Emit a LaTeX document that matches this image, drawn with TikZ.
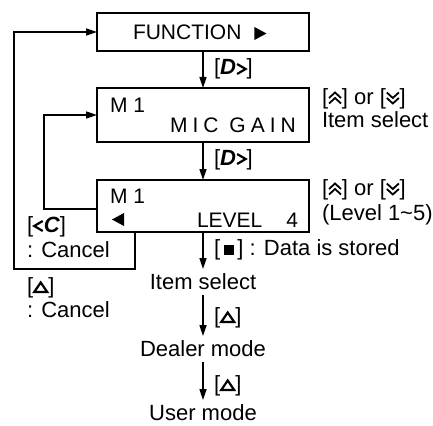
\documentclass[tikz,border=0pt]{standalone}
\usepackage{fontspec}
\setmainfont{Liberation Sans}
\newfontfamily\spacedfont[LetterSpace=24]{Liberation Sans}
\usetikzlibrary{arrows.meta}
\newcommand{\kup}{\tikz[baseline=0pt]{\draw[line width=1.8pt,line join=miter] (0.5pt,6pt)--(6.5pt,11.5pt)--(12.5pt,6pt) (0.5pt,0.5pt)--(6.5pt,6pt)--(12.5pt,0.5pt);}}
\newcommand{\kdn}{\tikz[baseline=0pt]{\draw[line width=1.8pt,line join=miter] (0.5pt,11.5pt)--(6.5pt,6pt)--(12.5pt,11.5pt) (0.5pt,6pt)--(6.5pt,0.5pt)--(12.5pt,6pt);}}
\newcommand{\ktri}{\tikz[baseline=0pt]{\draw[line width=2.2pt,line join=miter] (1pt,1pt)--(14pt,1pt)--(7.5pt,10.5pt)--cycle;}}
\newcommand{\ksq}{\tikz[baseline=0pt]{\fill (0,0.5pt) rectangle (10pt,10.5pt);}}
\newcommand{\kgt}{\tikz[baseline=0pt]{\draw[line width=2.2pt,line join=miter] (0.5pt,1pt)--(9pt,6pt)--(0.5pt,11pt);}}
\newcommand{\klt}{\tikz[baseline=0pt]{\draw[line width=2.2pt,line join=miter] (9pt,1pt)--(0.5pt,6pt)--(9pt,11pt);}}
\newcommand{\ktrR}{\tikz[baseline=0pt]{\fill (0,0) -- (12pt,6.5pt) -- (0,13pt) -- cycle;}}
\newcommand{\ktrL}{\tikz[baseline=0pt]{\fill (12pt,0) -- (0,6.5pt) -- (12pt,13pt) -- cycle;}}
\begin{document}
\begin{tikzpicture}[x=1pt,y=-1pt,
  box/.style={draw,line width=2.2pt,minimum width=212pt,outer sep=0pt,inner sep=0pt},
  btxt/.style={inner sep=0pt,outer sep=0pt,font=\fontsize{21}{25}\selectfont},
  txt/.style={inner sep=0pt,outer sep=0pt,font=\fontsize{22}{26}\selectfont},
  arr/.style={line width=1.6pt,-{Triangle[length=11pt,width=7pt]}}]
\useasboundingbox (0,0) rectangle (433,425);
% boxes
\node[box,minimum height=38pt] (fn) at (203,32) {};
\node[box,minimum height=54pt] (mic) at (203,115) {};
\node[box,minimum height=52pt] (lev) at (203,206) {};
% box texts
\node[btxt,anchor=base west] (fnt) at (133,40) {FUNCTION\hspace{13pt}\ktrR};
\node[btxt,anchor=base west] (m1a) at (110,112) {M 1};
\node[btxt,anchor=base west] (mg) at (170,132) {\spacedfont MIC GAIN};
\node[btxt,anchor=base west] (m1b) at (110,203) {M 1};
\node[btxt,anchor=base west] (larr) at (112,226) {\ktrL};
\node[btxt,anchor=base west] (lv) at (197,227) {LEVEL};
\node[btxt,anchor=base east] (l4) at (298,227) {4};
% lower texts
\node[txt,anchor=base] (item) at (203,289) {Item select};
\node[txt,anchor=base] (dealer) at (203,356) {Dealer mode};
\node[txt,anchor=base] (user) at (203,420) {User mode};
% connectors
\draw[arr] (fn.south) -- (mic.north);
\draw[arr] (mic.south) -- (lev.north);
\draw[arr,shorten >=4pt] (lev.south) -- (item.north);
\draw[arr,shorten <=6pt,shorten >=4pt] (item.south) -- (dealer.north);
\draw[arr,shorten <=6pt,shorten >=4pt] (dealer.south) -- (user.north);
\draw[arr] ([xshift=38pt]lev.south west) -- ++(0,37) -- ++(-121,0) |- (fn.west);
\draw[arr] ([yshift=-3pt]lev.west) -- ++(-53,0) |- (mic.west);
% labels
\node[txt,anchor=base west] (d1) at (214,75) {[\textbf{\textit{D}}\kgt]};
\node[txt,anchor=base west] (d2) at (214,165) {[\textbf{\textit{D}}\kgt]};
\node[txt,anchor=base west] (r1) at (322,104) {[\kup] or [\kdn]};
\node[txt,anchor=base west] (r2) at (322,128) {Item select};
\node[txt,anchor=base west] (r3) at (322,195) {[\kup] or [\kdn]};
\node[txt,anchor=base west] (r4) at (322,220) {(Level 1\char`~5)};
\node[txt,anchor=base west] (st) at (214,255) {[\,\ksq\,] : Data is stored};
\node[txt,anchor=base west] (c1) at (27,232) {[\klt\textbf{\textit{C}}]};
\node[txt,anchor=base west] (c2) at (27,257) {: Cancel};
\node[txt,anchor=base west] (c3) at (27,293) {[\ktri]};
\node[txt,anchor=base west] (c4) at (27,317) {: Cancel};
\node[txt,anchor=base west] (t1) at (214,323) {[\ktri]};
\node[txt,anchor=base west] (t2) at (214,391) {[\ktri]};
\end{tikzpicture}
\end{document}
